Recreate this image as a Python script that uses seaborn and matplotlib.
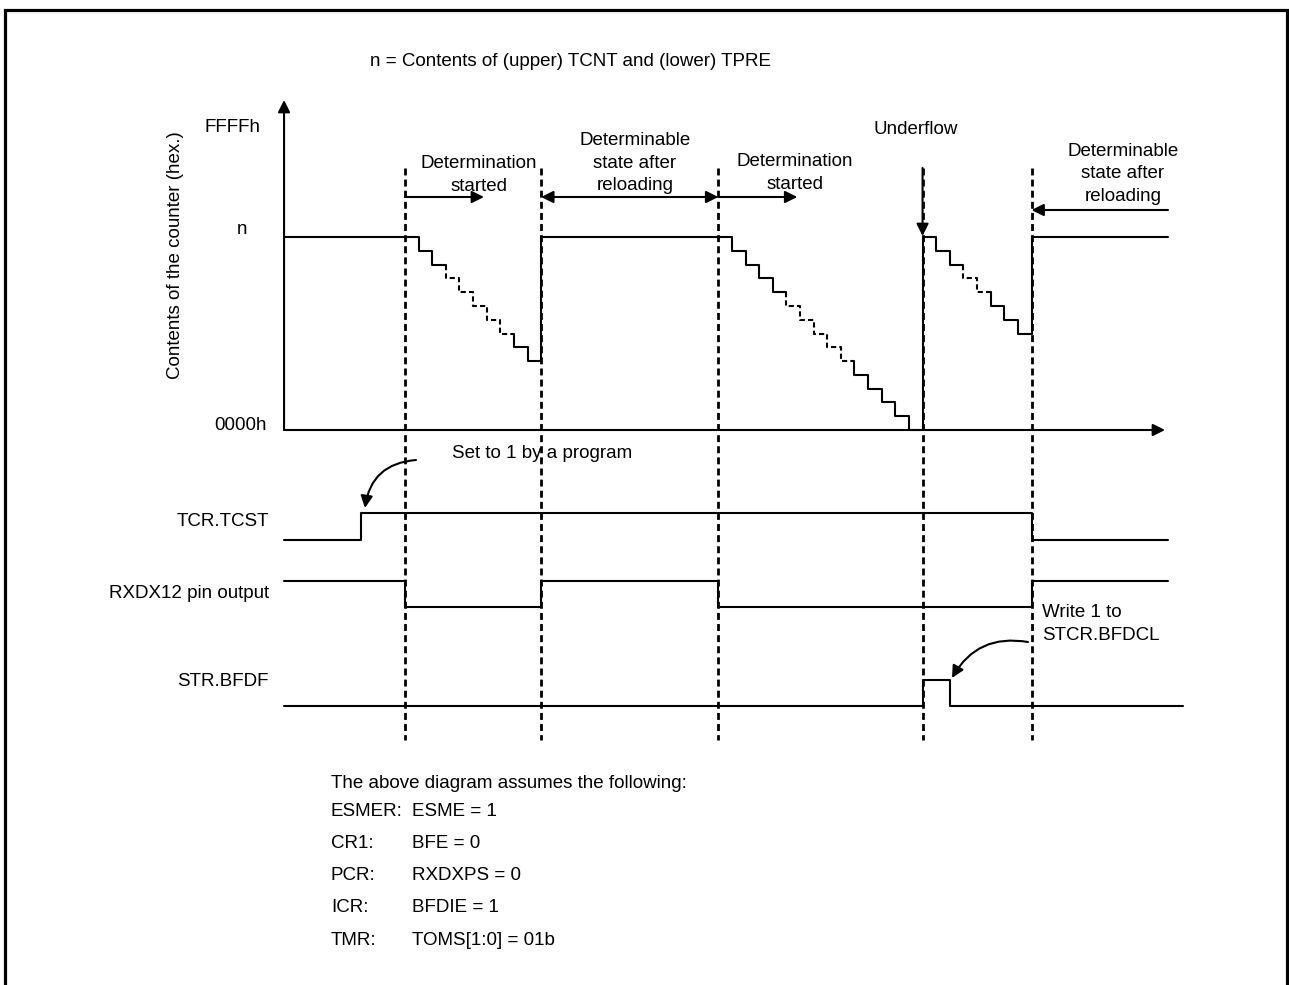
import numpy as np
import pandas as pd
import matplotlib.pyplot as plt
import seaborn as sns

sns.set_theme(style="white")
plt.rcParams['font.family'] = ['Liberation Sans', 'DejaVu Sans']

W, H = 1289, 985
FS = 13.5

# time is counted in counter clocks, clock 0 = first "Determination started"
CLOCK_PX = 13.62
ORIGIN_PX = 405
XLIM = (-ORIGIN_PX / CLOCK_PX, (W - ORIGIN_PX) / CLOCK_PX)

T_START = -8.88
T_END = 56.02
T_BFDF_END = 57.1
T_AXIS_END = 55.8

EVENT_CLOCKS = [0, 10, 23, 38, 46]

# counter contents per clock (n = 14 steps)
COUNTER_CLOCKS = list(range(0, 47))
COUNTER_VALUES = [14, 13, 12, 11, 10, 9, 8, 7, 6, 5,
                  14, 14, 14, 14, 14, 14, 14, 14, 14, 14, 14, 14, 14,
                  14, 13, 12, 11, 10, 9, 8, 7, 6, 5, 4, 3, 2, 1, 0,
                  14, 13, 12, 11, 10, 9, 8, 7,
                  14]
N_VALUE = 14
DASHED_SPANS = [(3, 8), (28, 33), (41, 43)]

# logic signals (clock, level)
TCST_T = [T_START, -3.2, 46, T_END]
TCST_V = [0, 1, 0, 0]
RXD_T = [T_START, 0, 10, 23, 46, T_END]
RXD_V = [1, 0, 1, 0, 1, 1]
BFDF_T = [T_START, 38, 40, T_BFDF_END]
BFDF_V = [0, 1, 0, 0]

SIGNAL_NAMES = ["TCR.TCST", "RXDX12 pin output", "STR.BFDF"]

NOTE_KEYS = ["ESMER:", "CR1:", "PCR:", "ICR:", "TMR:"]
NOTE_VALS = ["ESME = 1", "BFE = 0", "RXDXPS = 0", "BFDIE = 1", "TOMS[1:0] = 01b"]

fig = plt.figure(figsize=(W / 100, H / 100), dpi=100)


def overlay(y_low, y_high, lo, hi):
    a = fig.add_axes([0, 1 - y_low / H, 1, (y_low - y_high) / H])
    a.set_xlim(XLIM)
    a.set_ylim(lo, hi)
    a.axis('off')
    a.patch.set_alpha(0)
    return a


page = overlay(H, 0, H, 0)
page.set_xlim(0, W)
ax = overlay(H, 0, H, 0)
axc = overlay(430, 237, 0, N_VALUE)

line_kw = dict(color='black', lw=1.5, estimator=None, sort=False, legend=False, clip_on=False)
dash_kw = dict(line_kw, linestyle=(0, (2.5, 1.5)))

# counter staircase, built as step vertices
vx, vy = [T_START], [N_VALUE]
for c, v in zip(COUNTER_CLOCKS, COUNTER_VALUES):
    vx += [c, c]
    vy += [vy[-1], v]
vx.append(T_END)
vy.append(N_VALUE)


def seg_dashed(i):
    x0, x1 = vx[i], vx[i + 1]
    for a, b in DASHED_SPANS:
        if min(x0, x1) >= a and max(x0, x1) <= b and not (x0 == x1 == b):
            return True
    return False


styles = [seg_dashed(i) for i in range(len(vx) - 1)]
start = 0
for i in range(1, len(styles) + 1):
    if i == len(styles) or styles[i] != styles[start]:
        kw = dash_kw if styles[start] else line_kw
        sns.lineplot(x=vx[start:i + 1], y=vy[start:i + 1], ax=axc, **kw)
        start = i

# logic rows: (low px, high px)
rows = [(540, 513), (607, 581), (706, 680)]
for (lo, hi), t, v in zip(rows, [TCST_T, RXD_T, BFDF_T], [TCST_V, RXD_V, BFDF_V]):
    ar = overlay(lo, hi, 0, 1)
    sns.lineplot(x=t, y=v, ax=ar, drawstyle='steps-post', **line_kw)

# event lines
ax.vlines(EVENT_CLOCKS, 168, 740, colors='black', lw=2.0, linestyles=[(0, (2.5, 1.5))])

# counter axes arrows
arr = dict(arrowstyle='-|>', color='black', lw=1.5, mutation_scale=18, shrinkA=0, shrinkB=0)
ax.annotate('', xy=(T_START, 100), xytext=(T_START, 430), arrowprops=arr)
ax.annotate('', xy=(T_AXIS_END, 430), xytext=(T_START, 430), arrowprops=arr)

# span arrows
ax.annotate('', xy=(5.8, 197), xytext=(EVENT_CLOCKS[0], 197), arrowprops=arr)
ax.annotate('', xy=(EVENT_CLOCKS[2] + 5.8, 197), xytext=(EVENT_CLOCKS[2], 197), arrowprops=arr)
ax.annotate('', xy=(EVENT_CLOCKS[1], 197), xytext=(EVENT_CLOCKS[2], 197),
            arrowprops=dict(arr, arrowstyle='<|-|>'))
ax.annotate('', xy=(EVENT_CLOCKS[3], 236), xytext=(EVENT_CLOCKS[3], 168), arrowprops=arr)
ax.annotate('', xy=(EVENT_CLOCKS[4], 210), xytext=(T_END, 210), arrowprops=arr)
ax.annotate('', xy=(-2.94, 508), xytext=(0.81, 460),
            arrowprops=dict(arr, connectionstyle='arc3,rad=0.4'))
ax.annotate('', xy=(40.16, 678), xytext=(45.74, 642),
            arrowprops=dict(arr, connectionstyle='arc3,rad=0.35'))

# texts
tk = dict(fontsize=FS, color='black', va='center')
ml = dict(tk, multialignment='center', linespacing=1.45)
page.text(370, 62, "n = Contents of (upper) TCNT and (lower) TPRE", ha='left', **tk)
page.text(232, 127, "FFFFh", ha='center', **tk)
page.text(242, 229, "n", ha='center', **tk)
page.text(267, 425, "0000h", ha='right', **tk)
page.text(176, 255, "Contents of the counter (hex.)", ha='center', rotation=90, **tk)
page.text(479, 175, "Determination\nstarted", ha='center', **ml)
page.text(795, 173, "Determination\nstarted", ha='center', **ml)
page.text(635, 163, "Determinable\nstate after\nreloading", ha='center', **ml)
page.text(1123, 174, "Determinable\nstate after\nreloading", ha='center', **ml)
page.text(916, 129, "Underflow", ha='center', **tk)
page.text(452, 454, "Set to 1 by a program", ha='left', **tk)
page.text(1042, 624, "Write 1 to\nSTCR.BFDCL", ha='left', **dict(ml, multialignment='left'))
for name, y in zip(SIGNAL_NAMES, [522, 593, 682]):
    page.text(269, y, name, ha='right', **tk)

page.text(331, 783, "The above diagram assumes the following:", ha='left', **tk)
for i, (k, v) in enumerate(zip(NOTE_KEYS, NOTE_VALS)):
    y = 811 + i * 32.3
    page.text(331, y, k, ha='left', **tk)
    page.text(412, y, v, ha='left', **tk)

# page frame (open at the bottom)
page.plot([5.3, 5.3, 1287.3, 1287.3], [H + 5, 10.3, 10.3, H + 5], color='black',
          lw=2.3, solid_joinstyle='miter', clip_on=False)

plt.savefig("out.png", dpi=100)
